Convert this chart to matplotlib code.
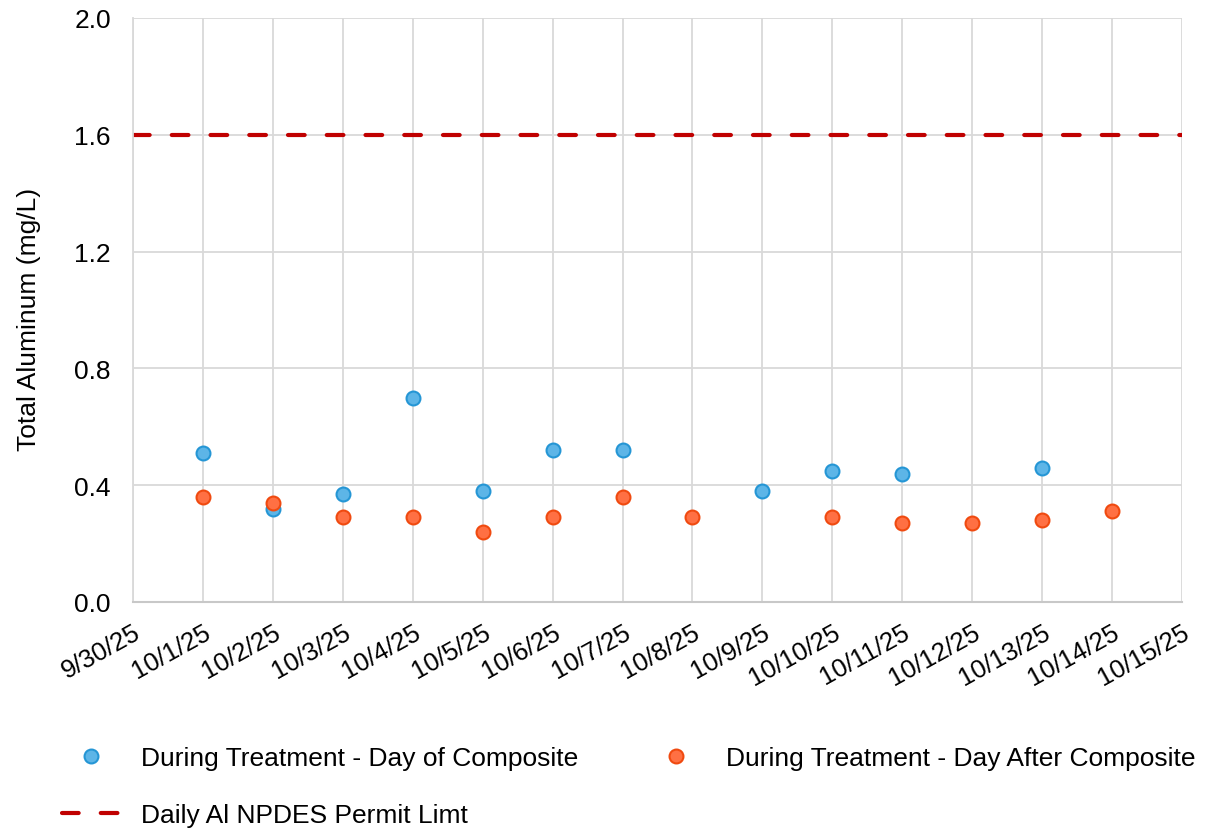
import matplotlib.pyplot as plt
import pandas as pd

plt.rcParams['font.family'] = ['Liberation Sans', 'DejaVu Sans']

# sample dates and results (mg/L)
day_of_dates = ['2025-10-01', '2025-10-02', '2025-10-03', '2025-10-04', '2025-10-05',
                '2025-10-06', '2025-10-07', '2025-10-09', '2025-10-10', '2025-10-11',
                '2025-10-13']
day_of_al = [0.51, 0.32, 0.37, 0.70, 0.38, 0.52, 0.52, 0.38, 0.45, 0.44, 0.46]

day_after_dates = ['2025-10-01', '2025-10-02', '2025-10-03', '2025-10-04', '2025-10-05',
                   '2025-10-06', '2025-10-07', '2025-10-08', '2025-10-10', '2025-10-11',
                   '2025-10-12', '2025-10-13', '2025-10-14']
day_after_al = [0.36, 0.34, 0.29, 0.29, 0.24, 0.29, 0.36, 0.29, 0.29, 0.27, 0.27, 0.28, 0.31]

permit_limit = 1.6
start, end = '2025-09-30', '2025-10-15'

all_days = pd.date_range(start, end, freq='D')

fig = plt.figure(figsize=(12.05, 8.29), dpi=100)
ax = fig.add_axes([133 / 1205, 1 - 603 / 829, (1182 - 133) / 1205, (603 - 19) / 829])

h1, = ax.plot(pd.to_datetime(day_of_dates), day_of_al, 'o', ms=10, mfc='#5DB5E7', mec='#2596D5',
              mew=1.5, label='During Treatment - Day of Composite', zorder=3)
h2, = ax.plot(pd.to_datetime(day_after_dates), day_after_al, 'o', ms=10, mfc='#FF7043',
              mec='#F04A10', mew=1.5, label='During Treatment - Day After Composite', zorder=4)
h3, = ax.plot(all_days, [permit_limit] * len(all_days), color='#C00000', lw=3,
              dashes=(4, 5.3), dash_capstyle='round', label='Daily Al NPDES Permit Limt',
              zorder=2)

ax.set_xlim(all_days[0], all_days[-1])
ax.set_ylim(0, 2.0)
ax.set_yticks([0.0, 0.4, 0.8, 1.2, 1.6, 2.0])
ax.yaxis.set_major_formatter(plt.FuncFormatter(lambda v, p: f'{v:.1f}'))
ax.set_xticks(all_days)
ax.set_xticklabels([f'{d.month}/{d.day}/{d.year % 100}' for d in all_days],
                   rotation=29, ha='right', rotation_mode='anchor')
ax.tick_params(axis='y', length=0, labelsize=19, pad=16)
ax.tick_params(axis='x', length=0, labelsize=18.5, pad=13)
ax.set_ylabel('Total Aluminum (mg/L)', fontsize=19)
ax.yaxis.set_label_coords(-0.088, 0.485)

ax.grid(True, color='#D9D9D9', lw=1.3)
ax.set_axisbelow(True)
for s in ['top', 'right']:
    ax.spines[s].set_visible(False)
ax.spines['left'].set_color('#D9D9D9')
ax.spines['bottom'].set_color('#C8C8C8')
ax.spines['left'].set_linewidth(1.3)
ax.spines['bottom'].set_linewidth(1.5)

# two columns, filled column-first: blue + limit on the left, orange on the right
fig.legend([h1, h3, h2], [h1.get_label(), h3.get_label(), h2.get_label()],
           loc='upper left', bbox_to_anchor=(38 / 1205, 1 - 723 / 829), ncol=2,
           frameon=False, fontsize=19, columnspacing=2.6, handlelength=2.2,
           labelspacing=1.25, handletextpad=0.8)

fig.savefig('out.png', dpi=100)
